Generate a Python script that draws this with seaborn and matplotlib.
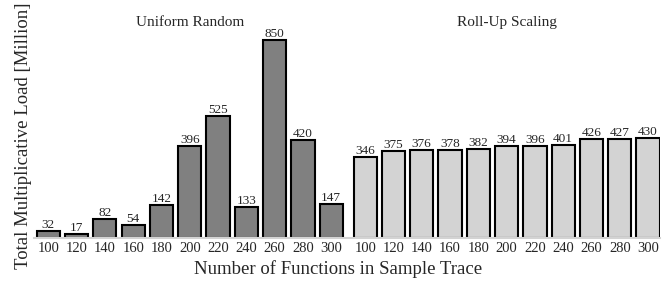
import numpy as np
import pandas as pd
import matplotlib
matplotlib.use("Agg")
import matplotlib.pyplot as plt
import seaborn as sns

# -----------------------------
# Data
# -----------------------------
functions = [100, 120, 140, 160, 180, 200, 220, 240, 260, 280, 300]
uniform_random = [32, 17, 82, 54, 142, 396, 525, 133, 850, 420, 147]
rollup_scaling = [346, 375, 376, 378, 382, 394, 396, 401, 426, 427, 430]
groups = ["Uniform Random", "Roll-Up Scaling"]
group_colors = ["#808080", "#d3d3d3"]

# -----------------------------
# Build table (slot positions, second group shifted by a small gap)
# -----------------------------
gap = 0.2
n = len(functions)
pos_a = np.arange(n, dtype=float)
pos_b = np.arange(n, dtype=float) + n + gap
df = pd.DataFrame({
    "pos": np.concatenate([pos_a, pos_b]),
    "load": uniform_random + rollup_scaling,
    "group": [groups[0]] * n + [groups[1]] * n,
    "label": [str(f) for f in functions] * 2,
})

sns.set_theme(style="white")
plt.rcParams["font.family"] = ["Liberation Serif", "DejaVu Serif"]

fig = plt.figure(figsize=(6.7, 2.83), dpi=100)
ax = fig.add_axes([0.051, 0.159, 0.934, 0.823])

sns.barplot(data=df, x="pos", y="load", hue="group", palette=group_colors,
            native_scale=True, width=0.82, edgecolor="black", linewidth=1.5,
            legend=False, ax=ax)

for c in ax.containers:
    ax.bar_label(c, fmt="%d", fontsize=9.5, padding=0)

ax.set_xticks(df["pos"])
ax.set_xticklabels(df["label"], fontsize=10.5)
ax.tick_params(axis="x", length=0, pad=3)
ax.set_yticks([])
ax.set_xlim(-0.5, pos_b[-1] + 0.42)
ax.set_ylim(0, 1000)

# group titles
ax.text(pos_a.mean(), 927, groups[0], ha="center", va="center", fontsize=11)
ax.text(pos_b.mean(), 927, groups[1], ha="center", va="center", fontsize=11)

ax.set_xlabel("Number of Functions in Sample Trace", fontsize=13.5)
ax.set_ylabel("Total Multiplicative Load [Million]", fontsize=13.5)
ax.xaxis.set_label_coords(0.485, -0.095)
ax.yaxis.set_label_coords(-0.004, 0.438)

for s in ["top", "right", "left"]:
    ax.spines[s].set_visible(False)
ax.spines["bottom"].set_color("#d3d3d3")
ax.spines["bottom"].set_linewidth(1.5)

plt.savefig("out.png", dpi=100)
